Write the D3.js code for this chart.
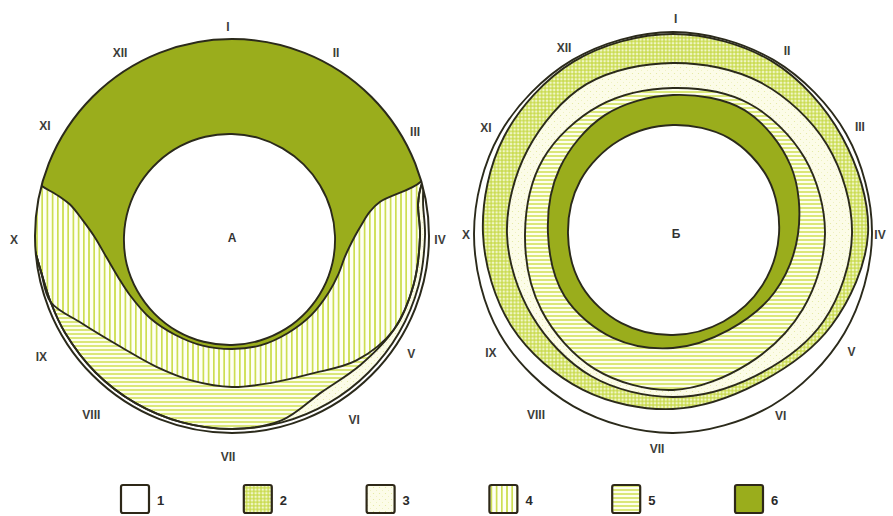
<!DOCTYPE html>
<html><head><meta charset="utf-8">
<script src="https://cdn.jsdelivr.net/npm/d3@7"></script>
<style>body{margin:0;background:#fff}</style>
</head><body>
<svg id="chart" width="893" height="516"></svg>
<script>
// ---------------- DATA ----------------
const months = ["I","II","III","IV","V","VI","VII","VIII","IX","X","XI","XII"];
// label direction (deg, clockwise from I) and distance from centre
const monthAnglesA = [0,30,60,90,122,145,180,218,238,270,302,330];
const monthDistA   = [213,216,216,212,216,220,217,222,220,214,216,216];
const monthAnglesB = [1,32,60,90,123,149,184,217,237,270,300,330];
const monthDistB   = [216,217,217,208,214,211,215,226,216,206,215,216];

// Diagram A boundaries (angle deg, radius)
const aInnerAng = [0,15,30,45,60,75,90,105,120,135,150,165,180,195,210,225,240,255,270,285,300,315,330,345];
const aInnerR   = [102,101.5,101.2,101.3,101.6,102.2,103,104,105.1,106.2,107.3,108.2,109,109.5,109.8,109.7,109.4,109,108,107,105.9,104.7,103.7,102.8];
const aZone6Ang = [0,30,60,70,74,77,80,85,90,100,110,120,135,150,165,180,195,210,225,240,250,260,270,276,281,283,286,290,300,330];
const aZone6R   = [215,215,214,210,196,152,140,130,123,115,113,112,112,112,113,113,113.5,114,116,118,121,127,138,150,165,178,206,214,215,215];
const gridA     = [0,30,60,70,75,80,90,105,120,135,150,165,180,195,210,225,240,250,260,270,280,285,290,300,330];
const aZone4R   = [222,222,220,212,196,189,188,188,187,176,159,152,151,150,151,157,174,193,194.5,202,222,222,222,222,222];
const aZone5R   = [224,224,222,214,196,189,188,188,187,182,180,191,193,193,193,193,193,193,194.5,202,224,224,224,224,224];
const aZone3R   = [226,226,224,216,199,194,193,193,193,193,193,193,193,193,193,193,193,193,194.5,202,226,226,226,226,226];
const aOuter    = 197;

// Diagram Б boundaries
const gridB   = [0,30,60,90,120,150,180,210,240,270,300,330];
const bInner  = [109,111,110,106,103,101,101,103,105,105,107,108];
const bZone6  = [139,143,136,125,117,111,114,120,125,125,131,137];
const bZone5  = [146,151,152,152,150,150,156,156,152,148,150,148];
const bZone3  = [171,175,178,179,174,164,163,164,163,166,168,173];
const bZone2  = [200,199,195,195,183,172,175,180,186,190,195,199];
const bOuter  = [202,201,200,199,198,198,199,199,200,199,200,201];

const legendItems = ["1","2","3","4","5","6"];

// ---------------- DRAW ----------------
const svg = d3.select("#chart");
const defs = svg.append("defs");

function stripePattern(id, w, h, bg, horizontal, col, sw){
  const p = defs.append("pattern").attr("id",id).attr("patternUnits","userSpaceOnUse").attr("width",w).attr("height",h);
  p.append("rect").attr("width",w).attr("height",h).attr("fill",bg);
  if (horizontal) p.append("line").attr("x1",0).attr("x2",w).attr("y1",h/2).attr("y2",h/2).attr("stroke",col).attr("stroke-width",sw);
  else p.append("line").attr("y1",0).attr("y2",h).attr("x1",w/2).attr("x2",w/2).attr("stroke",col).attr("stroke-width",sw);
}
stripePattern("vstripe",5.2,5,"#fefff4",false,"#c9dc44",1.6);
stripePattern("hstripe",4,4,"#fdfeee",true,"#cfe050",1.5);
const cp = defs.append("pattern").attr("id","cross").attr("patternUnits","userSpaceOnUse").attr("width",3.6).attr("height",3.6);
cp.append("rect").attr("width",3.6).attr("height",3.6).attr("fill","#f1f6c8");
cp.append("line").attr("x1",0).attr("x2",3.6).attr("y1",1.8).attr("y2",1.8).attr("stroke","#c4d73c").attr("stroke-width",1.1);
cp.append("line").attr("y1",0).attr("y2",3.6).attr("x1",1.8).attr("x2",1.8).attr("stroke","#c4d73c").attr("stroke-width",1.1);
const pp = defs.append("pattern").attr("id","pale").attr("patternUnits","userSpaceOnUse").attr("width",6).attr("height",6);
pp.append("rect").attr("width",6).attr("height",6).attr("fill","#fcfce8");
pp.append("circle").attr("cx",1.5).attr("cy",1.5).attr("r",0.6).attr("fill","#e3e99c");
pp.append("circle").attr("cx",4.5).attr("cy",4.5).attr("r",0.5).attr("fill","#ebeeb4");

const zoneFill = {"1":"#ffffff","2":"url(#cross)","3":"url(#pale)","4":"url(#vstripe)","5":"url(#hstripe)","6":"#9aad1c"};
const stroke = "#2b2a1b";

const aScale = d3.scaleLinear().domain([0,360]).range([0,2*Math.PI]);
const rScale = d3.scaleLinear().domain([0,200]).range([0,200]);
const radial = d3.lineRadial()
  .angle(d => aScale(d[0])).radius(d => rScale(d[1]))
  .curve(d3.curveCatmullRomClosed.alpha(0.5));
const ring = (ang, radii) => radial(d3.zip(ang, radii));

// ---- Diagram A ----
const gA = svg.append("g").attr("transform","translate(232,236)");
const outerArc = d3.arc().innerRadius(0).outerRadius(rScale(aOuter)).startAngle(0).endAngle(2*Math.PI);
defs.append("clipPath").attr("id","clipA").append("path").attr("d",outerArc());
const gAc = gA.append("g").attr("clip-path","url(#clipA)");
gAc.append("path").attr("d",outerArc()).attr("fill",zoneFill["1"]);
const layersA = [[gridA,aZone3R,"3"],[gridA,aZone5R,"5"],[gridA,aZone4R,"4"],[aZone6Ang,aZone6R,"6"],[aInnerAng,aInnerR,"1"]];
layersA.forEach(([g,r,z]) => gAc.append("path").attr("d",ring(g,r)).attr("fill",zoneFill[z]));
layersA.forEach(([g,r]) => gAc.append("path").attr("d",ring(g,r)).attr("fill","none").attr("stroke",stroke).attr("stroke-width",1.9));
gA.append("path").attr("d",outerArc()).attr("fill","none").attr("stroke",stroke).attr("stroke-width",2);

// ---- Diagram Б ----
const gB = svg.append("g").attr("transform","translate(673,234)");
const layersB = [[bOuter,"1"],[bZone2,"2"],[bZone3,"3"],[bZone5,"5"],[bZone6,"6"],[bInner,"1"]];
layersB.forEach(([r,z]) => gB.append("path").attr("d",ring(gridB,r)).attr("fill",zoneFill[z]));
layersB.forEach(([r]) => gB.append("path").attr("d",ring(gridB,r)).attr("fill","none").attr("stroke",stroke).attr("stroke-width",1.9));

// ---- month labels ----
function monthLabels(g, angles, dist){
  g.selectAll("text.m").data(months).enter().append("text")
    .attr("x",(d,i)=> rScale(dist[i])*Math.sin(aScale(angles[i])))
    .attr("y",(d,i)=> -rScale(dist[i])*Math.cos(aScale(angles[i])))
    .attr("text-anchor","middle").attr("dominant-baseline","central")
    .attr("font-family","Liberation Sans, Arial, sans-serif").attr("font-weight","bold")
    .attr("font-size",12).attr("fill","#3d3d3a").text(d=>d);
}
monthLabels(svg.append("g").attr("transform","translate(228,240)"), monthAnglesA, monthDistA);
monthLabels(svg.append("g").attr("transform","translate(672,235)"), monthAnglesB, monthDistB);

const centreFont = sel => sel.attr("text-anchor","middle").attr("dominant-baseline","central")
  .attr("font-family","Liberation Sans, Arial, sans-serif").attr("font-weight","bold").attr("font-size",12).attr("fill","#333");
svg.append("text").attr("x",232).attr("y",238).call(centreFont).text("А");
svg.append("text").attr("x",676).attr("y",234).call(centreFont).text("Б");

// ---- legend ----
const lx = d3.scalePoint().domain(legendItems).range([121,735]);
const lg = svg.append("g");
legendItems.forEach(k => {
  lg.append("rect").attr("x",lx(k)).attr("y",485).attr("width",28).attr("height",28).attr("rx",2)
    .attr("fill",zoneFill[k]).attr("stroke","#2e2818").attr("stroke-width",2.2);
  lg.append("text").attr("x",lx(k)+36).attr("y",500).attr("dominant-baseline","central")
    .attr("font-family","Liberation Sans, Arial, sans-serif").attr("font-weight","bold").attr("font-size",13)
    .attr("fill","#2a2a2a").text(k);
});
</script>
</body></html>
